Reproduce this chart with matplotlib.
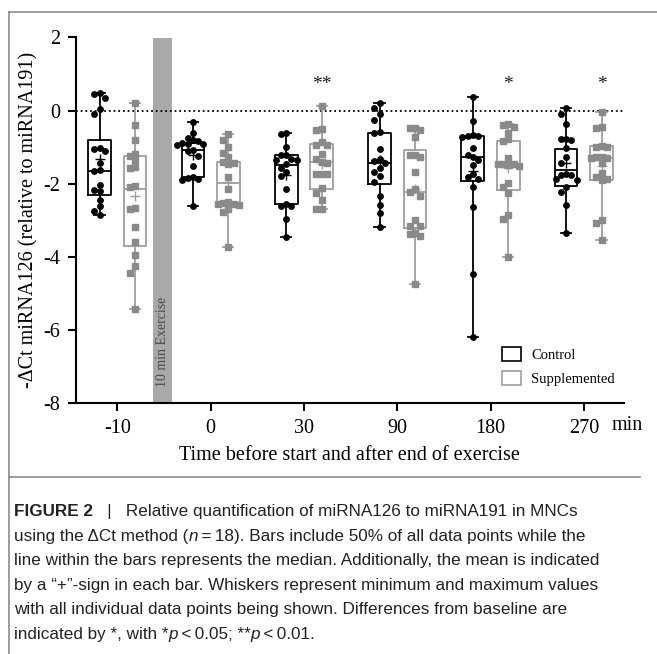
import matplotlib
matplotlib.use("Agg")
import matplotlib.pyplot as plt
from matplotlib.lines import Line2D
from matplotlib.patches import Patch
from matplotlib.transforms import IdentityTransform
import numpy as np

# time points (x categories)
times = ["-10", "0", "30", "90", "180", "270"]

# individual data points, -dCt miRNA126 (relative to miRNA191), n=18 per group
control = [
    [0.47, 0.45, 0.35, 0.05, -0.08, -1.03, -1.05, -1.09, -1.44, -1.62, -1.66, -2.03, -2.17, -2.20, -2.43, -2.62, -2.73, -2.85],
    [-0.30, -0.60, -0.75, -0.80, -0.82, -0.88, -0.90, -0.92, -0.95, -1.08, -1.10, -1.25, -1.50, -1.80, -1.85, -1.88, -1.90, -2.62],
    [-0.62, -0.64, -1.00, -1.20, -1.21, -1.32, -1.34, -1.36, -1.47, -1.58, -1.69, -1.78, -2.15, -2.55, -2.60, -2.62, -2.97, -3.46],
    [0.20, 0.06, -0.09, -0.25, -0.58, -0.60, -1.06, -1.33, -1.37, -1.44, -1.58, -1.69, -1.78, -1.94, -2.33, -2.58, -2.81, -3.19],
    [0.36, -0.27, -0.66, -0.68, -0.70, -0.72, -1.03, -1.20, -1.28, -1.35, -1.48, -1.72, -1.80, -1.88, -2.09, -2.64, -4.46, -6.20],
    [0.06, -0.09, -0.36, -0.77, -0.78, -0.79, -1.03, -1.26, -1.42, -1.74, -1.75, -1.76, -1.88, -1.90, -2.08, -2.21, -2.58, -3.35],
]
supplemented = [
    [0.22, -0.38, -0.80, -1.18, -1.24, -1.35, -1.55, -1.57, -2.05, -2.10, -2.65, -2.68, -3.17, -3.60, -3.95, -4.26, -4.43, -5.43],
    [-0.65, -0.80, -1.00, -1.15, -1.27, -1.40, -1.42, -1.45, -1.80, -2.15, -2.50, -2.52, -2.55, -2.55, -2.58, -2.70, -2.76, -3.72],
    [0.13, -0.51, -0.53, -0.85, -0.93, -0.95, -1.18, -1.33, -1.40, -1.43, -1.72, -1.73, -1.74, -2.12, -2.26, -2.44, -2.68, -2.70],
    [-0.47, -0.48, -0.53, -0.71, -1.20, -1.22, -1.28, -1.67, -2.15, -2.21, -2.32, -2.99, -3.14, -3.16, -3.34, -3.36, -3.44, -4.75],
    [-0.36, -0.38, -0.46, -0.60, -0.78, -0.82, -1.30, -1.45, -1.46, -1.47, -1.48, -1.50, -1.99, -2.08, -2.24, -2.85, -2.95, -3.99],
    [-0.05, -0.44, -0.48, -0.96, -0.98, -1.00, -1.26, -1.28, -1.29, -1.30, -1.44, -1.71, -1.80, -1.88, -1.89, -2.99, -3.08, -3.53],
]

# box statistics as drawn in the figure (25th percentile, median, 75th percentile)
ctrl_q1 = [-2.30, -1.80, -2.56, -2.01, -1.91, -2.05]
ctrl_med = [-1.64, -1.08, -1.49, -1.44, -1.28, -1.62]
ctrl_q3 = [-0.80, -0.89, -1.21, -0.60, -0.68, -1.05]
supp_q1 = [-3.69, -2.57, -2.15, -3.20, -2.17, -1.89]
supp_med = [-2.13, -1.98, -1.41, -2.21, -1.47, -1.30]
supp_q3 = [-1.24, -1.39, -0.92, -1.07, -0.82, -0.97]

# significance vs baseline (supplemented group)
stars = ["", "", "**", "", "*", "*"]

caption = [
    [("FIGURE 2", "bold", "normal"), ("   |   Relative quantification of miRNA126 to miRNA191 in MNCs", "normal", "normal")],
    [("using the \u0394Ct method (", "normal", "normal"), ("n", "normal", "italic"),
     ("\u2009=\u200918). Bars include 50% of all data points while the", "normal", "normal")],
    [("line within the bars represents the median. Additionally, the mean is indicated", "normal", "normal")],
    [("by a \u201c+\u201d-sign in each bar. Whiskers represent minimum and maximum values", "normal", "normal")],
    [("with all individual data points being shown. Differences from baseline are", "normal", "normal")],
    [("indicated by *, with *", "normal", "normal"), ("p", "normal", "italic"), ("\u2009<\u20090.05; **", "normal", "normal"),
     ("p", "normal", "italic"), ("\u2009<\u20090.01.", "normal", "normal")],
]

SERIF = ["Liberation Serif", "DejaVu Serif"]
SANS = ["Liberation Sans", "DejaVu Sans"]
BLACK = "#000000"
GREY_BOX = "#9e9e9e"
GREY_PT = "#8a8a8a"


def swarm(vals, dx=0.056, dy=0.17):
    # simple beeswarm: spread overlapping points sideways
    placed = []
    offs = []
    cands = [0, -dx, dx, -2 * dx, 2 * dx, -3 * dx, 3 * dx]
    for v in vals:
        for c in cands:
            ok = True
            for px, py in placed:
                if abs(c - px) < dx * 0.9 and abs(v - py) < dy:
                    ok = False
                    break
            if ok:
                break
        placed.append((c, v))
        offs.append(c)
    return np.array(offs)


W, H = 657, 654
fig = plt.figure(figsize=(W / 100, H / 100), dpi=100)
ax = fig.add_axes([75.7 / W, 1 - 403.3 / H, (624 - 75.7) / W, (403.3 - 37.5) / H])

pos = np.arange(len(times))
off = 0.19
bw = 0.243

# exercise bar
ax.axvspan(0.38, 0.586, color="#a9a9a9", lw=0, zorder=0)
ax.text(0.483, -7.55, "10 min Exercise", rotation=90, ha="center", va="bottom",
        fontsize=10, family=SERIF, color="#4a4a4a", zorder=1)

ax.axhline(0, color=BLACK, lw=1.3, ls=(0, (1, 1.6)), zorder=1)

for groups, q1s, meds, q3s, sgn, col, pcol, mk in [
    (control, ctrl_q1, ctrl_med, ctrl_q3, -1, BLACK, BLACK, "o"),
    (supplemented, supp_q1, supp_med, supp_q3, 1, GREY_BOX, GREY_PT, "s"),
]:
    stats = []
    for vals, a, m, b in zip(groups, q1s, meds, q3s):
        v = np.array(vals)
        stats.append(dict(q1=a, med=m, q3=b, whislo=v.min(), whishi=v.max(),
                          mean=v.mean(), fliers=[]))
    lp = dict(color=col, lw=1.3)
    ax.bxp(stats, positions=pos + sgn * off, widths=bw, capwidths=0.11,
           showmeans=True, showfliers=False, manage_ticks=False,
           boxprops=lp, whiskerprops=lp, capprops=lp, medianprops=lp,
           meanprops=dict(marker="+", markeredgecolor=col, markersize=7, markeredgewidth=1.0),
           zorder=2)
    for i, vals in enumerate(groups):
        v = np.sort(np.array(vals))[::-1]
        x = pos[i] + sgn * off + swarm(v)
        ax.plot(x, v, ls="none", marker=mk, ms=3.9 if mk == "o" else 3.7,
                color=pcol, mec=pcol, zorder=3)

for i, s in enumerate(stars):
    if s:
        ax.text(pos[i] + off, 0.6, s, ha="center", va="baseline", fontsize=14,
                family=SERIF, color="#1a1a1a")

ax.set_xlim(-0.446, 5.43)
ax.set_ylim(-8, 2)
yt = [-8, -6, -4, -2, 0, 2]
ax.set_yticks(yt)
ax.set_yticklabels([str(t) for t in yt])
ax.set_xticks(pos)
ax.set_xticklabels(times)
for s in ["top", "right"]:
    ax.spines[s].set_visible(False)
for s in ["left", "bottom"]:
    ax.spines[s].set_linewidth(1.5)
ax.tick_params(direction="out", length=6, width=1.5, labelsize=14.5, pad=5)
for lab in ax.get_xticklabels() + ax.get_yticklabels():
    lab.set_family(SERIF)

ax.set_ylabel("-\u0394Ct miRNA126 (relative to miRNA191)", family=SERIF, fontsize=14.5, labelpad=4)
ax.set_xlabel("Time before start and after end of exercise", family=SERIF, fontsize=14.5, labelpad=6)
fig.text(612 / W, 1 - 425 / H, "min", family=SERIF, fontsize=14.5, va="center", ha="left")

handles = [Patch(facecolor="white", edgecolor=BLACK, lw=1.2),
           Patch(facecolor="white", edgecolor=GREY_BOX, lw=1.2)]
fig.legend(handles, ["Control", "Supplemented"], loc="upper left",
           bbox_to_anchor=(495 / W, 1 - 340 / H), frameon=False,
           prop=dict(family=SERIF, size=10.5), handlelength=1.3, handleheight=1.1,
           handletextpad=0.7, labelspacing=0.6, borderpad=0)

# figure frame
fcol = "#8c8c8c"
fig.add_artist(Line2D([9 / W, 1], [1 - 12 / H, 1 - 12 / H], color=fcol, lw=1.2, transform=fig.transFigure))
fig.add_artist(Line2D([9 / W, 9 / W], [0, 1 - 12 / H], color=fcol, lw=1.2, transform=fig.transFigure))
fig.add_artist(Line2D([9 / W, 640 / W], [1 - 477 / H, 1 - 477 / H], color=fcol, lw=1.2, transform=fig.transFigure))

# caption, drawn run by run so bold / italic parts can be mixed
renderer = fig.canvas.get_renderer()
y0 = 516
for k, line in enumerate(caption):
    x = 14
    y = H - (y0 + k * 24.6)
    for txt, wt, st in line:
        t = fig.text(x, y, txt, transform=IdentityTransform(), fontsize=12.3,
                     family=SANS, weight=wt, style=st, va="baseline", ha="left", color="#222222")
        x += t.get_window_extent(renderer).width

fig.savefig("out.png", dpi=100)
